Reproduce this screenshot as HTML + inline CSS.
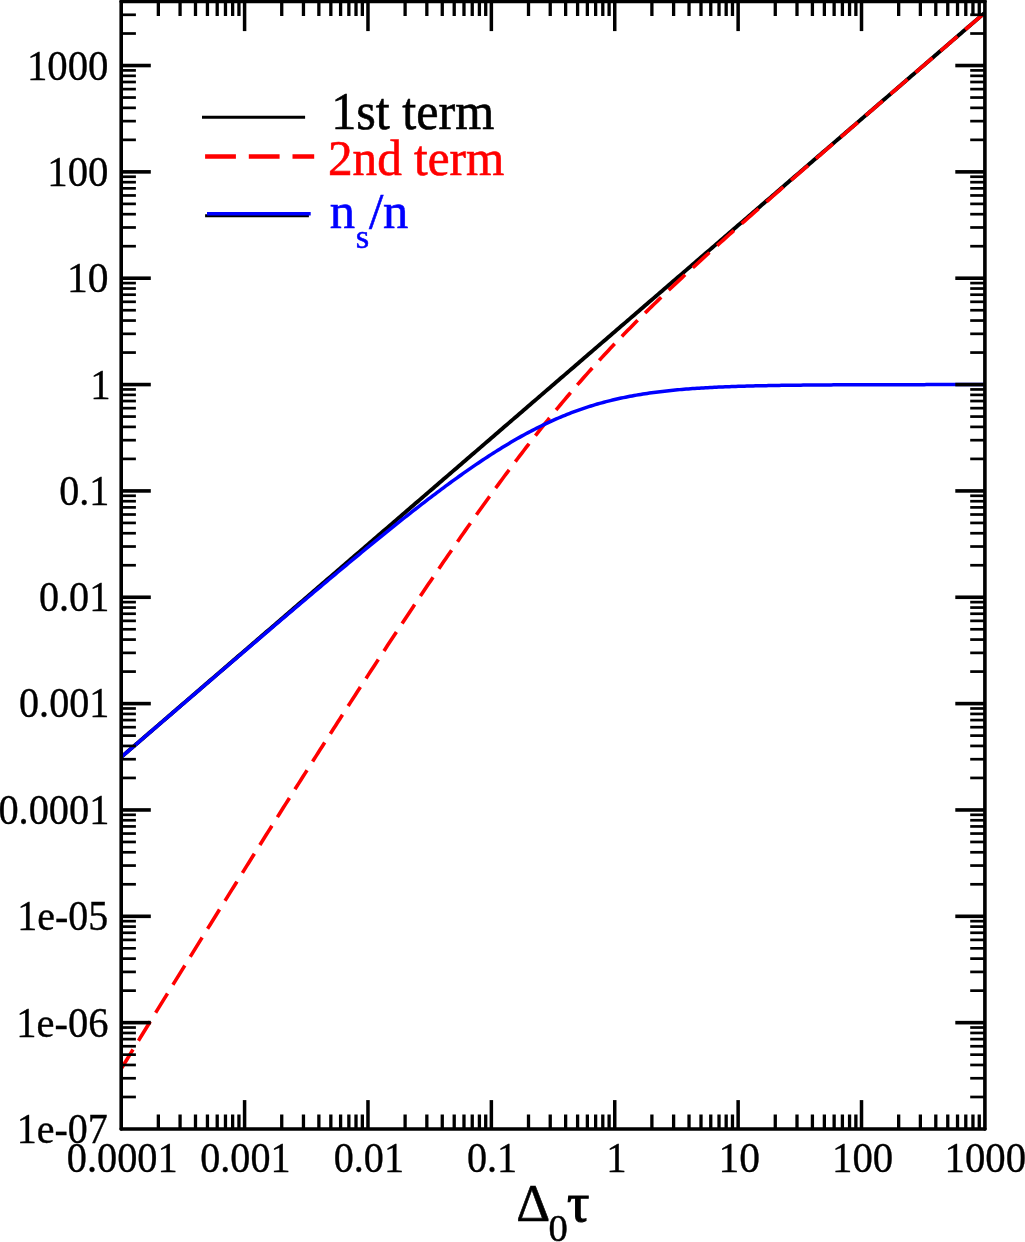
<!DOCTYPE html><html><head><meta charset="utf-8"><style>html,body{margin:0;padding:0;background:#fff;overflow:hidden;width:1025px;height:1242px;}svg{display:block;}text{font-family:"Liberation Serif","DejaVu Serif",serif;}</style></head><body>
<svg width="1025" height="1242" viewBox="0 0 1025 1242">
<rect x="0" y="0" width="1025" height="1242" fill="#fff"/>
<defs><clipPath id="c"><rect x="121.20" y="1.50" width="863.70" height="1127.50"/></clipPath></defs>
<g clip-path="url(#c)" fill="none" stroke-linejoin="round">
<path d="M121.20,757.09 L123.36,755.22 L125.53,753.36 L127.69,751.49 L129.86,749.62 L132.02,747.76 L134.19,745.89 L136.35,744.03 L138.52,742.16 L140.68,740.30 L142.85,738.43 L145.01,736.56 L147.18,734.70 L149.34,732.83 L151.51,730.97 L153.67,729.10 L155.83,727.24 L158.00,725.37 L160.16,723.50 L162.33,721.64 L164.49,719.77 L166.66,717.91 L168.82,716.04 L170.99,714.18 L173.15,712.31 L175.32,710.44 L177.48,708.58 L179.65,706.71 L181.81,704.85 L183.98,702.98 L186.14,701.12 L188.30,699.25 L190.47,697.38 L192.63,695.52 L194.80,693.65 L196.96,691.79 L199.13,689.92 L201.29,688.06 L203.46,686.19 L205.62,684.32 L207.79,682.46 L209.95,680.59 L212.12,678.73 L214.28,676.86 L216.45,675.00 L218.61,673.13 L220.77,671.26 L222.94,669.40 L225.10,667.53 L227.27,665.67 L229.43,663.80 L231.60,661.93 L233.76,660.07 L235.93,658.20 L238.09,656.34 L240.26,654.47 L242.42,652.61 L244.59,650.74 L246.75,648.87 L248.92,647.01 L251.08,645.14 L253.24,643.28 L255.41,641.41 L257.57,639.55 L259.74,637.68 L261.90,635.81 L264.07,633.95 L266.23,632.08 L268.40,630.22 L270.56,628.35 L272.73,626.49 L274.89,624.62 L277.06,622.75 L279.22,620.89 L281.38,619.02 L283.55,617.16 L285.71,615.29 L287.88,613.43 L290.04,611.56 L292.21,609.69 L294.37,607.83 L296.54,605.96 L298.70,604.10 L300.87,602.23 L303.03,600.37 L305.20,598.50 L307.36,596.63 L309.53,594.77 L311.69,592.90 L313.85,591.04 L316.02,589.17 L318.18,587.31 L320.35,585.44 L322.51,583.57 L324.68,581.71 L326.84,579.84 L329.01,577.98 L331.17,576.11 L333.34,574.25 L335.50,572.38 L337.67,570.51 L339.83,568.65 L342.00,566.78 L344.16,564.92 L346.32,563.05 L348.49,561.18 L350.65,559.32 L352.82,557.45 L354.98,555.59 L357.15,553.72 L359.31,551.86 L361.48,549.99 L363.64,548.12 L365.81,546.26 L367.97,544.39 L370.14,542.53 L372.30,540.66 L374.47,538.80 L376.63,536.93 L378.79,535.06 L380.96,533.20 L383.12,531.33 L385.29,529.47 L387.45,527.60 L389.62,525.74 L391.78,523.87 L393.95,522.00 L396.11,520.14 L398.28,518.27 L400.44,516.41 L402.61,514.54 L404.77,512.68 L406.94,510.81 L409.10,508.94 L411.26,507.08 L413.43,505.21 L415.59,503.35 L417.76,501.48 L419.92,499.62 L422.09,497.75 L424.25,495.88 L426.42,494.02 L428.58,492.15 L430.75,490.29 L432.91,488.42 L435.08,486.56 L437.24,484.69 L439.41,482.82 L441.57,480.96 L443.73,479.09 L445.90,477.23 L448.06,475.36 L450.23,473.50 L452.39,471.63 L454.56,469.76 L456.72,467.90 L458.89,466.03 L461.05,464.17 L463.22,462.30 L465.38,460.43 L467.55,458.57 L469.71,456.70 L471.88,454.84 L474.04,452.97 L476.20,451.11 L478.37,449.24 L480.53,447.37 L482.70,445.51 L484.86,443.64 L487.03,441.78 L489.19,439.91 L491.36,438.05 L493.52,436.18 L495.69,434.31 L497.85,432.45 L500.02,430.58 L502.18,428.72 L504.35,426.85 L506.51,424.99 L508.67,423.12 L510.84,421.25 L513.00,419.39 L515.17,417.52 L517.33,415.66 L519.50,413.79 L521.66,411.93 L523.83,410.06 L525.99,408.19 L528.16,406.33 L530.32,404.46 L532.49,402.60 L534.65,400.73 L536.82,398.87 L538.98,397.00 L541.14,395.13 L543.31,393.27 L545.47,391.40 L547.64,389.54 L549.80,387.67 L551.97,385.81 L554.13,383.94 L556.30,382.07 L558.46,380.21 L560.63,378.34 L562.79,376.48 L564.96,374.61 L567.12,372.74 L569.28,370.88 L571.45,369.01 L573.61,367.15 L575.78,365.28 L577.94,363.42 L580.11,361.55 L582.27,359.68 L584.44,357.82 L586.60,355.95 L588.77,354.09 L590.93,352.22 L593.10,350.36 L595.26,348.49 L597.43,346.62 L599.59,344.76 L601.75,342.89 L603.92,341.03 L606.08,339.16 L608.25,337.30 L610.41,335.43 L612.58,333.56 L614.74,331.70 L616.91,329.83 L619.07,327.97 L621.24,326.10 L623.40,324.24 L625.57,322.37 L627.73,320.50 L629.90,318.64 L632.06,316.77 L634.22,314.91 L636.39,313.04 L638.55,311.18 L640.72,309.31 L642.88,307.44 L645.05,305.58 L647.21,303.71 L649.38,301.85 L651.54,299.98 L653.71,298.12 L655.87,296.25 L658.04,294.38 L660.20,292.52 L662.37,290.65 L664.53,288.79 L666.69,286.92 L668.86,285.06 L671.02,283.19 L673.19,281.32 L675.35,279.46 L677.52,277.59 L679.68,275.73 L681.85,273.86 L684.01,271.99 L686.18,270.13 L688.34,268.26 L690.51,266.40 L692.67,264.53 L694.84,262.67 L697.00,260.80 L699.16,258.93 L701.33,257.07 L703.49,255.20 L705.66,253.34 L707.82,251.47 L709.99,249.61 L712.15,247.74 L714.32,245.87 L716.48,244.01 L718.65,242.14 L720.81,240.28 L722.98,238.41 L725.14,236.55 L727.31,234.68 L729.47,232.81 L731.63,230.95 L733.80,229.08 L735.96,227.22 L738.13,225.35 L740.29,223.49 L742.46,221.62 L744.62,219.75 L746.79,217.89 L748.95,216.02 L751.12,214.16 L753.28,212.29 L755.45,210.43 L757.61,208.56 L759.78,206.69 L761.94,204.83 L764.10,202.96 L766.27,201.10 L768.43,199.23 L770.60,197.37 L772.76,195.50 L774.93,193.63 L777.09,191.77 L779.26,189.90 L781.42,188.04 L783.59,186.17 L785.75,184.31 L787.92,182.44 L790.08,180.57 L792.25,178.71 L794.41,176.84 L796.57,174.98 L798.74,173.11 L800.90,171.24 L803.07,169.38 L805.23,167.51 L807.40,165.65 L809.56,163.78 L811.73,161.92 L813.89,160.05 L816.06,158.18 L818.22,156.32 L820.39,154.45 L822.55,152.59 L824.72,150.72 L826.88,148.86 L829.04,146.99 L831.21,145.12 L833.37,143.26 L835.54,141.39 L837.70,139.53 L839.87,137.66 L842.03,135.80 L844.20,133.93 L846.36,132.06 L848.53,130.20 L850.69,128.33 L852.86,126.47 L855.02,124.60 L857.18,122.74 L859.35,120.87 L861.51,119.00 L863.68,117.14 L865.84,115.27 L868.01,113.41 L870.17,111.54 L872.34,109.68 L874.50,107.81 L876.67,105.94 L878.83,104.08 L881.00,102.21 L883.16,100.35 L885.33,98.48 L887.49,96.62 L889.65,94.75 L891.82,92.88 L893.98,91.02 L896.15,89.15 L898.31,87.29 L900.48,85.42 L902.64,83.56 L904.81,81.69 L906.97,79.82 L909.14,77.96 L911.30,76.09 L913.47,74.23 L915.63,72.36 L917.80,70.49 L919.96,68.63 L922.12,66.76 L924.29,64.90 L926.45,63.03 L928.62,61.17 L930.78,59.30 L932.95,57.43 L935.11,55.57 L937.28,53.70 L939.44,51.84 L941.61,49.97 L943.77,48.11 L945.94,46.24 L948.10,44.37 L950.27,42.51 L952.43,40.64 L954.59,38.78 L956.76,36.91 L958.92,35.05 L961.09,33.18 L963.25,31.31 L965.42,29.45 L967.58,27.58 L969.75,25.72 L971.91,23.85 L974.08,21.99 L976.24,20.12 L978.41,18.25 L980.57,16.39 L982.74,14.52 L984.90,12.66" stroke="#000" stroke-width="3.9"/>
<path d="M121.20,1068.77 L123.36,1065.24 L125.53,1061.72 L127.69,1058.19 L129.86,1054.66 L132.02,1051.14 L134.19,1047.61 L136.35,1044.09 L138.52,1040.57 L140.68,1037.05 L142.85,1033.53 L145.01,1030.01 L147.18,1026.49 L149.34,1022.97 L151.51,1019.46 L153.67,1015.94 L155.83,1012.43 L158.00,1008.92 L160.16,1005.40 L162.33,1001.89 L164.49,998.38 L166.66,994.87 L168.82,991.37 L170.99,987.86 L173.15,984.35 L175.32,980.85 L177.48,977.35 L179.65,973.84 L181.81,970.34 L183.98,966.84 L186.14,963.34 L188.30,959.85 L190.47,956.35 L192.63,952.85 L194.80,949.36 L196.96,945.87 L199.13,942.38 L201.29,938.89 L203.46,935.40 L205.62,931.91 L207.79,928.42 L209.95,924.94 L212.12,921.45 L214.28,917.97 L216.45,914.49 L218.61,911.01 L220.77,907.53 L222.94,904.05 L225.10,900.58 L227.27,897.10 L229.43,893.63 L231.60,890.16 L233.76,886.69 L235.93,883.22 L238.09,879.76 L240.26,876.29 L242.42,872.83 L244.59,869.36 L246.75,865.90 L248.92,862.44 L251.08,858.99 L253.24,855.53 L255.41,852.08 L257.57,848.62 L259.74,845.17 L261.90,841.73 L264.07,838.28 L266.23,834.83 L268.40,831.39 L270.56,827.95 L272.73,824.51 L274.89,821.07 L277.06,817.63 L279.22,814.20 L281.38,810.76 L283.55,807.33 L285.71,803.91 L287.88,800.48 L290.04,797.05 L292.21,793.63 L294.37,790.21 L296.54,786.79 L298.70,783.38 L300.87,779.96 L303.03,776.55 L305.20,773.14 L307.36,769.73 L309.53,766.33 L311.69,762.93 L313.85,759.52 L316.02,756.13 L318.18,752.73 L320.35,749.34 L322.51,745.95 L324.68,742.56 L326.84,739.17 L329.01,735.79 L331.17,732.41 L333.34,729.03 L335.50,725.66 L337.67,722.28 L339.83,718.92 L342.00,715.55 L344.16,712.18 L346.32,708.82 L348.49,705.47 L350.65,702.11 L352.82,698.76 L354.98,695.41 L357.15,692.07 L359.31,688.72 L361.48,685.38 L363.64,682.05 L365.81,678.72 L367.97,675.39 L370.14,672.06 L372.30,668.74 L374.47,665.42 L376.63,662.11 L378.79,658.80 L380.96,655.49 L383.12,652.19 L385.29,648.89 L387.45,645.59 L389.62,642.30 L391.78,639.02 L393.95,635.73 L396.11,632.46 L398.28,629.18 L400.44,625.91 L402.61,622.65 L404.77,619.39 L406.94,616.13 L409.10,612.88 L411.26,609.64 L413.43,606.39 L415.59,603.16 L417.76,599.93 L419.92,596.70 L422.09,593.48 L424.25,590.27 L426.42,587.06 L428.58,583.86 L430.75,580.66 L432.91,577.47 L435.08,574.28 L437.24,571.10 L439.41,567.93 L441.57,564.76 L443.73,561.60 L445.90,558.45 L448.06,555.30 L450.23,552.16 L452.39,549.03 L454.56,545.90 L456.72,542.78 L458.89,539.67 L461.05,536.56 L463.22,533.47 L465.38,530.38 L467.55,527.30 L469.71,524.23 L471.88,521.16 L474.04,518.11 L476.20,515.06 L478.37,512.02 L480.53,508.99 L482.70,505.97 L484.86,502.96 L487.03,499.95 L489.19,496.96 L491.36,493.98 L493.52,491.00 L495.69,488.04 L497.85,485.09 L500.02,482.14 L502.18,479.21 L504.35,476.29 L506.51,473.38 L508.67,470.48 L510.84,467.59 L513.00,464.71 L515.17,461.84 L517.33,458.99 L519.50,456.14 L521.66,453.31 L523.83,450.49 L525.99,447.68 L528.16,444.89 L530.32,442.10 L532.49,439.33 L534.65,436.57 L536.82,433.83 L538.98,431.09 L541.14,428.38 L543.31,425.67 L545.47,422.97 L547.64,420.29 L549.80,417.63 L551.97,414.97 L554.13,412.33 L556.30,409.70 L558.46,407.09 L560.63,404.49 L562.79,401.90 L564.96,399.33 L567.12,396.77 L569.28,394.22 L571.45,391.69 L573.61,389.17 L575.78,386.67 L577.94,384.17 L580.11,381.70 L582.27,379.23 L584.44,376.78 L586.60,374.34 L588.77,371.91 L590.93,369.50 L593.10,367.10 L595.26,364.71 L597.43,362.34 L599.59,359.98 L601.75,357.63 L603.92,355.29 L606.08,352.96 L608.25,350.65 L610.41,348.35 L612.58,346.06 L614.74,343.78 L616.91,341.52 L619.07,339.26 L621.24,337.01 L623.40,334.78 L625.57,332.56 L627.73,330.34 L629.90,328.14 L632.06,325.95 L634.22,323.77 L636.39,321.59 L638.55,319.43 L640.72,317.27 L642.88,315.13 L645.05,312.99 L647.21,310.86 L649.38,308.74 L651.54,306.63 L653.71,304.52 L655.87,302.43 L658.04,300.34 L660.20,298.26 L662.37,296.18 L664.53,294.12 L666.69,292.06 L668.86,290.00 L671.02,287.95 L673.19,285.91 L675.35,283.88 L677.52,281.85 L679.68,279.82 L681.85,277.81 L684.01,275.79 L686.18,273.79 L688.34,271.78 L690.51,269.78 L692.67,267.79 L694.84,265.80 L697.00,263.82 L699.16,261.84 L701.33,259.86 L703.49,257.89 L705.66,255.92 L707.82,253.96 L709.99,252.00 L712.15,250.04 L714.32,248.09 L716.48,246.14 L718.65,244.19 L720.81,242.25 L722.98,240.30 L725.14,238.37 L727.31,236.43 L729.47,234.50 L731.63,232.57 L733.80,230.64 L735.96,228.71 L738.13,226.79 L740.29,224.87 L742.46,222.95 L744.62,221.03 L746.79,219.12 L748.95,217.20 L751.12,215.29 L753.28,213.38 L755.45,211.47 L757.61,209.57 L759.78,207.66 L761.94,205.76 L764.10,203.86 L766.27,201.95 L768.43,200.06 L770.60,198.16 L772.76,196.26 L774.93,194.37 L777.09,192.47 L779.26,190.58 L781.42,188.69 L783.59,186.79 L785.75,184.90 L787.92,183.01 L790.08,181.13 L792.25,179.24 L794.41,177.35 L796.57,175.47 L798.74,173.58 L800.90,171.70 L803.07,169.81 L805.23,167.93 L807.40,166.05 L809.56,164.17 L811.73,162.29 L813.89,160.41 L816.06,158.53 L818.22,156.65 L820.39,154.77 L822.55,152.89 L824.72,151.01 L826.88,149.14 L829.04,147.26 L831.21,145.38 L833.37,143.51 L835.54,141.63 L837.70,139.76 L839.87,137.88 L842.03,136.01 L844.20,134.13 L846.36,132.26 L848.53,130.39 L850.69,128.51 L852.86,126.64 L855.02,124.77 L857.18,122.89 L859.35,121.02 L861.51,119.15 L863.68,117.28 L865.84,115.41 L868.01,113.54 L870.17,111.67 L872.34,109.80 L874.50,107.92 L876.67,106.05 L878.83,104.18 L881.00,102.31 L883.16,100.44 L885.33,98.58 L887.49,96.71 L889.65,94.84 L891.82,92.97 L893.98,91.10 L896.15,89.23 L898.31,87.36 L900.48,85.49 L902.64,83.62 L904.81,81.75 L906.97,79.89 L909.14,78.02 L911.30,76.15 L913.47,74.28 L915.63,72.41 L917.80,70.55 L919.96,68.68 L922.12,66.81 L924.29,64.94 L926.45,63.08 L928.62,61.21 L930.78,59.34 L932.95,57.47 L935.11,55.61 L937.28,53.74 L939.44,51.87 L941.61,50.00 L943.77,48.14 L945.94,46.27 L948.10,44.40 L950.27,42.54 L952.43,40.67 L954.59,38.80 L956.76,36.94 L958.92,35.07 L961.09,33.20 L963.25,31.34 L965.42,29.47 L967.58,27.60 L969.75,25.74 L971.91,23.87 L974.08,22.00 L976.24,20.14 L978.41,18.27 L980.57,16.40 L982.74,14.54 L984.90,12.67" stroke="#f00" stroke-width="3.6" stroke-dasharray="22.6,10.31" stroke-dashoffset="0"/>
<path d="M121.20,757.14 L123.36,755.28 L125.53,753.41 L127.69,751.55 L129.86,749.69 L132.02,747.82 L134.19,745.96 L136.35,744.10 L138.52,742.23 L140.68,740.37 L142.85,738.51 L145.01,736.65 L147.18,734.78 L149.34,732.92 L151.51,731.06 L153.67,729.19 L155.83,727.33 L158.00,725.47 L160.16,723.61 L162.33,721.75 L164.49,719.88 L166.66,718.02 L168.82,716.16 L170.99,714.30 L173.15,712.44 L175.32,710.58 L177.48,708.72 L179.65,706.86 L181.81,704.99 L183.98,703.13 L186.14,701.27 L188.30,699.41 L190.47,697.55 L192.63,695.69 L194.80,693.83 L196.96,691.98 L199.13,690.12 L201.29,688.26 L203.46,686.40 L205.62,684.54 L207.79,682.68 L209.95,680.83 L212.12,678.97 L214.28,677.11 L216.45,675.25 L218.61,673.40 L220.77,671.54 L222.94,669.69 L225.10,667.83 L227.27,665.98 L229.43,664.12 L231.60,662.27 L233.76,660.41 L235.93,658.56 L238.09,656.71 L240.26,654.85 L242.42,653.00 L244.59,651.15 L246.75,649.30 L248.92,647.45 L251.08,645.60 L253.24,643.75 L255.41,641.90 L257.57,640.05 L259.74,638.20 L261.90,636.35 L264.07,634.51 L266.23,632.66 L268.40,630.81 L270.56,628.97 L272.73,627.12 L274.89,625.28 L277.06,623.44 L279.22,621.60 L281.38,619.76 L283.55,617.92 L285.71,616.08 L287.88,614.24 L290.04,612.40 L292.21,610.56 L294.37,608.73 L296.54,606.89 L298.70,605.06 L300.87,603.23 L303.03,601.39 L305.20,599.56 L307.36,597.74 L309.53,595.91 L311.69,594.08 L313.85,592.26 L316.02,590.43 L318.18,588.61 L320.35,586.79 L322.51,584.97 L324.68,583.15 L326.84,581.33 L329.01,579.52 L331.17,577.70 L333.34,575.89 L335.50,574.08 L337.67,572.27 L339.83,570.47 L342.00,568.66 L344.16,566.86 L346.32,565.06 L348.49,563.26 L350.65,561.47 L352.82,559.67 L354.98,557.88 L357.15,556.09 L359.31,554.31 L361.48,552.52 L363.64,550.74 L365.81,548.96 L367.97,547.18 L370.14,545.41 L372.30,543.64 L374.47,541.87 L376.63,540.11 L378.79,538.35 L380.96,536.59 L383.12,534.84 L385.29,533.09 L387.45,531.34 L389.62,529.59 L391.78,527.85 L393.95,526.12 L396.11,524.39 L398.28,522.66 L400.44,520.94 L402.61,519.22 L404.77,517.50 L406.94,515.79 L409.10,514.09 L411.26,512.39 L413.43,510.69 L415.59,509.00 L417.76,507.31 L419.92,505.64 L422.09,503.96 L424.25,502.29 L426.42,500.63 L428.58,498.97 L430.75,497.32 L432.91,495.68 L435.08,494.04 L437.24,492.41 L439.41,490.79 L441.57,489.17 L443.73,487.56 L445.90,485.96 L448.06,484.37 L450.23,482.78 L452.39,481.20 L454.56,479.63 L456.72,478.07 L458.89,476.51 L461.05,474.97 L463.22,473.43 L465.38,471.91 L467.55,470.39 L469.71,468.88 L471.88,467.38 L474.04,465.90 L476.20,464.42 L478.37,462.95 L480.53,461.49 L482.70,460.05 L484.86,458.61 L487.03,457.19 L489.19,455.78 L491.36,454.38 L493.52,452.99 L495.69,451.62 L497.85,450.26 L500.02,448.91 L502.18,447.57 L504.35,446.24 L506.51,444.93 L508.67,443.64 L510.84,442.35 L513.00,441.08 L515.17,439.83 L517.33,438.59 L519.50,437.36 L521.66,436.15 L523.83,434.96 L525.99,433.78 L528.16,432.61 L530.32,431.46 L532.49,430.33 L534.65,429.21 L536.82,428.11 L538.98,427.02 L541.14,425.95 L543.31,424.90 L545.47,423.86 L547.64,422.84 L549.80,421.84 L551.97,420.85 L554.13,419.88 L556.30,418.93 L558.46,417.99 L560.63,417.08 L562.79,416.18 L564.96,415.29 L567.12,414.42 L569.28,413.57 L571.45,412.74 L573.61,411.92 L575.78,411.13 L577.94,410.34 L580.11,409.58 L582.27,408.83 L584.44,408.10 L586.60,407.38 L588.77,406.69 L590.93,406.00 L593.10,405.34 L595.26,404.69 L597.43,404.05 L599.59,403.44 L601.75,402.83 L603.92,402.25 L606.08,401.68 L608.25,401.12 L610.41,400.58 L612.58,400.05 L614.74,399.54 L616.91,399.04 L619.07,398.55 L621.24,398.08 L623.40,397.63 L625.57,397.18 L627.73,396.75 L629.90,396.33 L632.06,395.93 L634.22,395.53 L636.39,395.15 L638.55,394.78 L640.72,394.42 L642.88,394.07 L645.05,393.74 L647.21,393.41 L649.38,393.10 L651.54,392.79 L653.71,392.49 L655.87,392.21 L658.04,391.93 L660.20,391.67 L662.37,391.41 L664.53,391.16 L666.69,390.92 L668.86,390.68 L671.02,390.46 L673.19,390.24 L675.35,390.03 L677.52,389.83 L679.68,389.63 L681.85,389.44 L684.01,389.26 L686.18,389.09 L688.34,388.92 L690.51,388.75 L692.67,388.60 L694.84,388.44 L697.00,388.30 L699.16,388.16 L701.33,388.02 L703.49,387.89 L705.66,387.76 L707.82,387.64 L709.99,387.52 L712.15,387.41 L714.32,387.30 L716.48,387.20 L718.65,387.10 L720.81,387.00 L722.98,386.91 L725.14,386.82 L727.31,386.73 L729.47,386.65 L731.63,386.57 L733.80,386.49 L735.96,386.41 L738.13,386.34 L740.29,386.27 L742.46,386.21 L744.62,386.14 L746.79,386.08 L748.95,386.02 L751.12,385.97 L753.28,385.91 L755.45,385.86 L757.61,385.81 L759.78,385.76 L761.94,385.72 L764.10,385.67 L766.27,385.63 L768.43,385.59 L770.60,385.55 L772.76,385.51 L774.93,385.47 L777.09,385.44 L779.26,385.40 L781.42,385.37 L783.59,385.34 L785.75,385.31 L787.92,385.28 L790.08,385.25 L792.25,385.22 L794.41,385.20 L796.57,385.17 L798.74,385.15 L800.90,385.13 L803.07,385.11 L805.23,385.08 L807.40,385.06 L809.56,385.04 L811.73,385.03 L813.89,385.01 L816.06,384.99 L818.22,384.97 L820.39,384.96 L822.55,384.94 L824.72,384.93 L826.88,384.91 L829.04,384.90 L831.21,384.89 L833.37,384.87 L835.54,384.86 L837.70,384.85 L839.87,384.84 L842.03,384.83 L844.20,384.82 L846.36,384.81 L848.53,384.80 L850.69,384.79 L852.86,384.78 L855.02,384.77 L857.18,384.77 L859.35,384.76 L861.51,384.75 L863.68,384.74 L865.84,384.74 L868.01,384.73 L870.17,384.72 L872.34,384.72 L874.50,384.71 L876.67,384.71 L878.83,384.70 L881.00,384.70 L883.16,384.69 L885.33,384.69 L887.49,384.68 L889.65,384.68 L891.82,384.67 L893.98,384.67 L896.15,384.66 L898.31,384.66 L900.48,384.66 L902.64,384.65 L904.81,384.65 L906.97,384.65 L909.14,384.64 L911.30,384.64 L913.47,384.64 L915.63,384.64 L917.80,384.63 L919.96,384.63 L922.12,384.63 L924.29,384.63 L926.45,384.62 L928.62,384.62 L930.78,384.62 L932.95,384.62 L935.11,384.62 L937.28,384.61 L939.44,384.61 L941.61,384.61 L943.77,384.61 L945.94,384.61 L948.10,384.61 L950.27,384.60 L952.43,384.60 L954.59,384.60 L956.76,384.60 L958.92,384.60 L961.09,384.60 L963.25,384.60 L965.42,384.60 L967.58,384.59 L969.75,384.59 L971.91,384.59 L974.08,384.59 L976.24,384.59 L978.41,384.59 L980.57,384.59 L982.74,384.59 L984.90,384.59" stroke="#00f" stroke-width="3.5"/>
</g>
<g stroke="#000" stroke-linecap="butt"><line x1="158.34" y1="1129.00" x2="158.34" y2="1114.50" stroke-width="3.3"/><line x1="158.34" y1="1.50" x2="158.34" y2="16.00" stroke-width="3.3"/><line x1="180.07" y1="1129.00" x2="180.07" y2="1114.50" stroke-width="3.3"/><line x1="180.07" y1="1.50" x2="180.07" y2="16.00" stroke-width="3.3"/><line x1="195.49" y1="1129.00" x2="195.49" y2="1114.50" stroke-width="3.3"/><line x1="195.49" y1="1.50" x2="195.49" y2="16.00" stroke-width="3.3"/><line x1="207.44" y1="1129.00" x2="207.44" y2="1114.50" stroke-width="3.3"/><line x1="207.44" y1="1.50" x2="207.44" y2="16.00" stroke-width="3.3"/><line x1="217.21" y1="1129.00" x2="217.21" y2="1114.50" stroke-width="3.3"/><line x1="217.21" y1="1.50" x2="217.21" y2="16.00" stroke-width="3.3"/><line x1="225.47" y1="1129.00" x2="225.47" y2="1114.50" stroke-width="3.3"/><line x1="225.47" y1="1.50" x2="225.47" y2="16.00" stroke-width="3.3"/><line x1="232.63" y1="1129.00" x2="232.63" y2="1114.50" stroke-width="3.3"/><line x1="232.63" y1="1.50" x2="232.63" y2="16.00" stroke-width="3.3"/><line x1="238.94" y1="1129.00" x2="238.94" y2="1114.50" stroke-width="3.3"/><line x1="238.94" y1="1.50" x2="238.94" y2="16.00" stroke-width="3.3"/><line x1="244.59" y1="1129.00" x2="244.59" y2="1100.10" stroke-width="3.5"/><line x1="244.59" y1="1.50" x2="244.59" y2="31.10" stroke-width="3.5"/><line x1="281.73" y1="1129.00" x2="281.73" y2="1114.50" stroke-width="3.3"/><line x1="281.73" y1="1.50" x2="281.73" y2="16.00" stroke-width="3.3"/><line x1="303.46" y1="1129.00" x2="303.46" y2="1114.50" stroke-width="3.3"/><line x1="303.46" y1="1.50" x2="303.46" y2="16.00" stroke-width="3.3"/><line x1="318.87" y1="1129.00" x2="318.87" y2="1114.50" stroke-width="3.3"/><line x1="318.87" y1="1.50" x2="318.87" y2="16.00" stroke-width="3.3"/><line x1="330.83" y1="1129.00" x2="330.83" y2="1114.50" stroke-width="3.3"/><line x1="330.83" y1="1.50" x2="330.83" y2="16.00" stroke-width="3.3"/><line x1="340.60" y1="1129.00" x2="340.60" y2="1114.50" stroke-width="3.3"/><line x1="340.60" y1="1.50" x2="340.60" y2="16.00" stroke-width="3.3"/><line x1="348.86" y1="1129.00" x2="348.86" y2="1114.50" stroke-width="3.3"/><line x1="348.86" y1="1.50" x2="348.86" y2="16.00" stroke-width="3.3"/><line x1="356.01" y1="1129.00" x2="356.01" y2="1114.50" stroke-width="3.3"/><line x1="356.01" y1="1.50" x2="356.01" y2="16.00" stroke-width="3.3"/><line x1="362.33" y1="1129.00" x2="362.33" y2="1114.50" stroke-width="3.3"/><line x1="362.33" y1="1.50" x2="362.33" y2="16.00" stroke-width="3.3"/><line x1="367.97" y1="1129.00" x2="367.97" y2="1100.10" stroke-width="3.5"/><line x1="367.97" y1="1.50" x2="367.97" y2="31.10" stroke-width="3.5"/><line x1="405.11" y1="1129.00" x2="405.11" y2="1114.50" stroke-width="3.3"/><line x1="405.11" y1="1.50" x2="405.11" y2="16.00" stroke-width="3.3"/><line x1="426.84" y1="1129.00" x2="426.84" y2="1114.50" stroke-width="3.3"/><line x1="426.84" y1="1.50" x2="426.84" y2="16.00" stroke-width="3.3"/><line x1="442.26" y1="1129.00" x2="442.26" y2="1114.50" stroke-width="3.3"/><line x1="442.26" y1="1.50" x2="442.26" y2="16.00" stroke-width="3.3"/><line x1="454.21" y1="1129.00" x2="454.21" y2="1114.50" stroke-width="3.3"/><line x1="454.21" y1="1.50" x2="454.21" y2="16.00" stroke-width="3.3"/><line x1="463.98" y1="1129.00" x2="463.98" y2="1114.50" stroke-width="3.3"/><line x1="463.98" y1="1.50" x2="463.98" y2="16.00" stroke-width="3.3"/><line x1="472.24" y1="1129.00" x2="472.24" y2="1114.50" stroke-width="3.3"/><line x1="472.24" y1="1.50" x2="472.24" y2="16.00" stroke-width="3.3"/><line x1="479.40" y1="1129.00" x2="479.40" y2="1114.50" stroke-width="3.3"/><line x1="479.40" y1="1.50" x2="479.40" y2="16.00" stroke-width="3.3"/><line x1="485.71" y1="1129.00" x2="485.71" y2="1114.50" stroke-width="3.3"/><line x1="485.71" y1="1.50" x2="485.71" y2="16.00" stroke-width="3.3"/><line x1="491.36" y1="1129.00" x2="491.36" y2="1100.10" stroke-width="3.5"/><line x1="491.36" y1="1.50" x2="491.36" y2="31.10" stroke-width="3.5"/><line x1="528.50" y1="1129.00" x2="528.50" y2="1114.50" stroke-width="3.3"/><line x1="528.50" y1="1.50" x2="528.50" y2="16.00" stroke-width="3.3"/><line x1="550.23" y1="1129.00" x2="550.23" y2="1114.50" stroke-width="3.3"/><line x1="550.23" y1="1.50" x2="550.23" y2="16.00" stroke-width="3.3"/><line x1="565.64" y1="1129.00" x2="565.64" y2="1114.50" stroke-width="3.3"/><line x1="565.64" y1="1.50" x2="565.64" y2="16.00" stroke-width="3.3"/><line x1="577.60" y1="1129.00" x2="577.60" y2="1114.50" stroke-width="3.3"/><line x1="577.60" y1="1.50" x2="577.60" y2="16.00" stroke-width="3.3"/><line x1="587.37" y1="1129.00" x2="587.37" y2="1114.50" stroke-width="3.3"/><line x1="587.37" y1="1.50" x2="587.37" y2="16.00" stroke-width="3.3"/><line x1="595.63" y1="1129.00" x2="595.63" y2="1114.50" stroke-width="3.3"/><line x1="595.63" y1="1.50" x2="595.63" y2="16.00" stroke-width="3.3"/><line x1="602.79" y1="1129.00" x2="602.79" y2="1114.50" stroke-width="3.3"/><line x1="602.79" y1="1.50" x2="602.79" y2="16.00" stroke-width="3.3"/><line x1="609.10" y1="1129.00" x2="609.10" y2="1114.50" stroke-width="3.3"/><line x1="609.10" y1="1.50" x2="609.10" y2="16.00" stroke-width="3.3"/><line x1="614.74" y1="1129.00" x2="614.74" y2="1100.10" stroke-width="3.5"/><line x1="614.74" y1="1.50" x2="614.74" y2="31.10" stroke-width="3.5"/><line x1="651.89" y1="1129.00" x2="651.89" y2="1114.50" stroke-width="3.3"/><line x1="651.89" y1="1.50" x2="651.89" y2="16.00" stroke-width="3.3"/><line x1="673.61" y1="1129.00" x2="673.61" y2="1114.50" stroke-width="3.3"/><line x1="673.61" y1="1.50" x2="673.61" y2="16.00" stroke-width="3.3"/><line x1="689.03" y1="1129.00" x2="689.03" y2="1114.50" stroke-width="3.3"/><line x1="689.03" y1="1.50" x2="689.03" y2="16.00" stroke-width="3.3"/><line x1="700.99" y1="1129.00" x2="700.99" y2="1114.50" stroke-width="3.3"/><line x1="700.99" y1="1.50" x2="700.99" y2="16.00" stroke-width="3.3"/><line x1="710.76" y1="1129.00" x2="710.76" y2="1114.50" stroke-width="3.3"/><line x1="710.76" y1="1.50" x2="710.76" y2="16.00" stroke-width="3.3"/><line x1="719.02" y1="1129.00" x2="719.02" y2="1114.50" stroke-width="3.3"/><line x1="719.02" y1="1.50" x2="719.02" y2="16.00" stroke-width="3.3"/><line x1="726.17" y1="1129.00" x2="726.17" y2="1114.50" stroke-width="3.3"/><line x1="726.17" y1="1.50" x2="726.17" y2="16.00" stroke-width="3.3"/><line x1="732.48" y1="1129.00" x2="732.48" y2="1114.50" stroke-width="3.3"/><line x1="732.48" y1="1.50" x2="732.48" y2="16.00" stroke-width="3.3"/><line x1="738.13" y1="1129.00" x2="738.13" y2="1100.10" stroke-width="3.5"/><line x1="738.13" y1="1.50" x2="738.13" y2="31.10" stroke-width="3.5"/><line x1="775.27" y1="1129.00" x2="775.27" y2="1114.50" stroke-width="3.3"/><line x1="775.27" y1="1.50" x2="775.27" y2="16.00" stroke-width="3.3"/><line x1="797.00" y1="1129.00" x2="797.00" y2="1114.50" stroke-width="3.3"/><line x1="797.00" y1="1.50" x2="797.00" y2="16.00" stroke-width="3.3"/><line x1="812.41" y1="1129.00" x2="812.41" y2="1114.50" stroke-width="3.3"/><line x1="812.41" y1="1.50" x2="812.41" y2="16.00" stroke-width="3.3"/><line x1="824.37" y1="1129.00" x2="824.37" y2="1114.50" stroke-width="3.3"/><line x1="824.37" y1="1.50" x2="824.37" y2="16.00" stroke-width="3.3"/><line x1="834.14" y1="1129.00" x2="834.14" y2="1114.50" stroke-width="3.3"/><line x1="834.14" y1="1.50" x2="834.14" y2="16.00" stroke-width="3.3"/><line x1="842.40" y1="1129.00" x2="842.40" y2="1114.50" stroke-width="3.3"/><line x1="842.40" y1="1.50" x2="842.40" y2="16.00" stroke-width="3.3"/><line x1="849.56" y1="1129.00" x2="849.56" y2="1114.50" stroke-width="3.3"/><line x1="849.56" y1="1.50" x2="849.56" y2="16.00" stroke-width="3.3"/><line x1="855.87" y1="1129.00" x2="855.87" y2="1114.50" stroke-width="3.3"/><line x1="855.87" y1="1.50" x2="855.87" y2="16.00" stroke-width="3.3"/><line x1="861.51" y1="1129.00" x2="861.51" y2="1100.10" stroke-width="3.5"/><line x1="861.51" y1="1.50" x2="861.51" y2="31.10" stroke-width="3.5"/><line x1="898.66" y1="1129.00" x2="898.66" y2="1114.50" stroke-width="3.3"/><line x1="898.66" y1="1.50" x2="898.66" y2="16.00" stroke-width="3.3"/><line x1="920.38" y1="1129.00" x2="920.38" y2="1114.50" stroke-width="3.3"/><line x1="920.38" y1="1.50" x2="920.38" y2="16.00" stroke-width="3.3"/><line x1="935.80" y1="1129.00" x2="935.80" y2="1114.50" stroke-width="3.3"/><line x1="935.80" y1="1.50" x2="935.80" y2="16.00" stroke-width="3.3"/><line x1="947.76" y1="1129.00" x2="947.76" y2="1114.50" stroke-width="3.3"/><line x1="947.76" y1="1.50" x2="947.76" y2="16.00" stroke-width="3.3"/><line x1="957.53" y1="1129.00" x2="957.53" y2="1114.50" stroke-width="3.3"/><line x1="957.53" y1="1.50" x2="957.53" y2="16.00" stroke-width="3.3"/><line x1="965.79" y1="1129.00" x2="965.79" y2="1114.50" stroke-width="3.3"/><line x1="965.79" y1="1.50" x2="965.79" y2="16.00" stroke-width="3.3"/><line x1="972.94" y1="1129.00" x2="972.94" y2="1114.50" stroke-width="3.3"/><line x1="972.94" y1="1.50" x2="972.94" y2="16.00" stroke-width="3.3"/><line x1="979.25" y1="1129.00" x2="979.25" y2="1114.50" stroke-width="3.3"/><line x1="979.25" y1="1.50" x2="979.25" y2="16.00" stroke-width="3.3"/><line x1="121.20" y1="1096.99" x2="135.90" y2="1096.99" stroke-width="2.7"/><line x1="984.90" y1="1096.99" x2="970.20" y2="1096.99" stroke-width="2.7"/><line x1="121.20" y1="1078.26" x2="135.90" y2="1078.26" stroke-width="2.7"/><line x1="984.90" y1="1078.26" x2="970.20" y2="1078.26" stroke-width="2.7"/><line x1="121.20" y1="1064.97" x2="135.90" y2="1064.97" stroke-width="2.7"/><line x1="984.90" y1="1064.97" x2="970.20" y2="1064.97" stroke-width="2.7"/><line x1="121.20" y1="1054.67" x2="135.90" y2="1054.67" stroke-width="2.7"/><line x1="984.90" y1="1054.67" x2="970.20" y2="1054.67" stroke-width="2.7"/><line x1="121.20" y1="1046.25" x2="135.90" y2="1046.25" stroke-width="2.7"/><line x1="984.90" y1="1046.25" x2="970.20" y2="1046.25" stroke-width="2.7"/><line x1="121.20" y1="1039.13" x2="135.90" y2="1039.13" stroke-width="2.7"/><line x1="984.90" y1="1039.13" x2="970.20" y2="1039.13" stroke-width="2.7"/><line x1="121.20" y1="1032.96" x2="135.90" y2="1032.96" stroke-width="2.7"/><line x1="984.90" y1="1032.96" x2="970.20" y2="1032.96" stroke-width="2.7"/><line x1="121.20" y1="1027.52" x2="135.90" y2="1027.52" stroke-width="2.7"/><line x1="984.90" y1="1027.52" x2="970.20" y2="1027.52" stroke-width="2.7"/><line x1="121.20" y1="1022.65" x2="150.80" y2="1022.65" stroke-width="3.6"/><line x1="984.90" y1="1022.65" x2="955.30" y2="1022.65" stroke-width="3.6"/><line x1="121.20" y1="990.64" x2="135.90" y2="990.64" stroke-width="2.7"/><line x1="984.90" y1="990.64" x2="970.20" y2="990.64" stroke-width="2.7"/><line x1="121.20" y1="971.91" x2="135.90" y2="971.91" stroke-width="2.7"/><line x1="984.90" y1="971.91" x2="970.20" y2="971.91" stroke-width="2.7"/><line x1="121.20" y1="958.63" x2="135.90" y2="958.63" stroke-width="2.7"/><line x1="984.90" y1="958.63" x2="970.20" y2="958.63" stroke-width="2.7"/><line x1="121.20" y1="948.32" x2="135.90" y2="948.32" stroke-width="2.7"/><line x1="984.90" y1="948.32" x2="970.20" y2="948.32" stroke-width="2.7"/><line x1="121.20" y1="939.90" x2="135.90" y2="939.90" stroke-width="2.7"/><line x1="984.90" y1="939.90" x2="970.20" y2="939.90" stroke-width="2.7"/><line x1="121.20" y1="932.78" x2="135.90" y2="932.78" stroke-width="2.7"/><line x1="984.90" y1="932.78" x2="970.20" y2="932.78" stroke-width="2.7"/><line x1="121.20" y1="926.61" x2="135.90" y2="926.61" stroke-width="2.7"/><line x1="984.90" y1="926.61" x2="970.20" y2="926.61" stroke-width="2.7"/><line x1="121.20" y1="921.17" x2="135.90" y2="921.17" stroke-width="2.7"/><line x1="984.90" y1="921.17" x2="970.20" y2="921.17" stroke-width="2.7"/><line x1="121.20" y1="916.31" x2="150.80" y2="916.31" stroke-width="3.6"/><line x1="984.90" y1="916.31" x2="955.30" y2="916.31" stroke-width="3.6"/><line x1="121.20" y1="884.29" x2="135.90" y2="884.29" stroke-width="2.7"/><line x1="984.90" y1="884.29" x2="970.20" y2="884.29" stroke-width="2.7"/><line x1="121.20" y1="865.56" x2="135.90" y2="865.56" stroke-width="2.7"/><line x1="984.90" y1="865.56" x2="970.20" y2="865.56" stroke-width="2.7"/><line x1="121.20" y1="852.28" x2="135.90" y2="852.28" stroke-width="2.7"/><line x1="984.90" y1="852.28" x2="970.20" y2="852.28" stroke-width="2.7"/><line x1="121.20" y1="841.97" x2="135.90" y2="841.97" stroke-width="2.7"/><line x1="984.90" y1="841.97" x2="970.20" y2="841.97" stroke-width="2.7"/><line x1="121.20" y1="833.55" x2="135.90" y2="833.55" stroke-width="2.7"/><line x1="984.90" y1="833.55" x2="970.20" y2="833.55" stroke-width="2.7"/><line x1="121.20" y1="826.43" x2="135.90" y2="826.43" stroke-width="2.7"/><line x1="984.90" y1="826.43" x2="970.20" y2="826.43" stroke-width="2.7"/><line x1="121.20" y1="820.26" x2="135.90" y2="820.26" stroke-width="2.7"/><line x1="984.90" y1="820.26" x2="970.20" y2="820.26" stroke-width="2.7"/><line x1="121.20" y1="814.82" x2="135.90" y2="814.82" stroke-width="2.7"/><line x1="984.90" y1="814.82" x2="970.20" y2="814.82" stroke-width="2.7"/><line x1="121.20" y1="809.96" x2="150.80" y2="809.96" stroke-width="3.6"/><line x1="984.90" y1="809.96" x2="955.30" y2="809.96" stroke-width="3.6"/><line x1="121.20" y1="777.94" x2="135.90" y2="777.94" stroke-width="2.7"/><line x1="984.90" y1="777.94" x2="970.20" y2="777.94" stroke-width="2.7"/><line x1="121.20" y1="759.22" x2="135.90" y2="759.22" stroke-width="2.7"/><line x1="984.90" y1="759.22" x2="970.20" y2="759.22" stroke-width="2.7"/><line x1="121.20" y1="745.93" x2="135.90" y2="745.93" stroke-width="2.7"/><line x1="984.90" y1="745.93" x2="970.20" y2="745.93" stroke-width="2.7"/><line x1="121.20" y1="735.62" x2="135.90" y2="735.62" stroke-width="2.7"/><line x1="984.90" y1="735.62" x2="970.20" y2="735.62" stroke-width="2.7"/><line x1="121.20" y1="727.20" x2="135.90" y2="727.20" stroke-width="2.7"/><line x1="984.90" y1="727.20" x2="970.20" y2="727.20" stroke-width="2.7"/><line x1="121.20" y1="720.08" x2="135.90" y2="720.08" stroke-width="2.7"/><line x1="984.90" y1="720.08" x2="970.20" y2="720.08" stroke-width="2.7"/><line x1="121.20" y1="713.92" x2="135.90" y2="713.92" stroke-width="2.7"/><line x1="984.90" y1="713.92" x2="970.20" y2="713.92" stroke-width="2.7"/><line x1="121.20" y1="708.48" x2="135.90" y2="708.48" stroke-width="2.7"/><line x1="984.90" y1="708.48" x2="970.20" y2="708.48" stroke-width="2.7"/><line x1="121.20" y1="703.61" x2="150.80" y2="703.61" stroke-width="3.6"/><line x1="984.90" y1="703.61" x2="955.30" y2="703.61" stroke-width="3.6"/><line x1="121.20" y1="671.60" x2="135.90" y2="671.60" stroke-width="2.7"/><line x1="984.90" y1="671.60" x2="970.20" y2="671.60" stroke-width="2.7"/><line x1="121.20" y1="652.87" x2="135.90" y2="652.87" stroke-width="2.7"/><line x1="984.90" y1="652.87" x2="970.20" y2="652.87" stroke-width="2.7"/><line x1="121.20" y1="639.58" x2="135.90" y2="639.58" stroke-width="2.7"/><line x1="984.90" y1="639.58" x2="970.20" y2="639.58" stroke-width="2.7"/><line x1="121.20" y1="629.28" x2="135.90" y2="629.28" stroke-width="2.7"/><line x1="984.90" y1="629.28" x2="970.20" y2="629.28" stroke-width="2.7"/><line x1="121.20" y1="620.86" x2="135.90" y2="620.86" stroke-width="2.7"/><line x1="984.90" y1="620.86" x2="970.20" y2="620.86" stroke-width="2.7"/><line x1="121.20" y1="613.74" x2="135.90" y2="613.74" stroke-width="2.7"/><line x1="984.90" y1="613.74" x2="970.20" y2="613.74" stroke-width="2.7"/><line x1="121.20" y1="607.57" x2="135.90" y2="607.57" stroke-width="2.7"/><line x1="984.90" y1="607.57" x2="970.20" y2="607.57" stroke-width="2.7"/><line x1="121.20" y1="602.13" x2="135.90" y2="602.13" stroke-width="2.7"/><line x1="984.90" y1="602.13" x2="970.20" y2="602.13" stroke-width="2.7"/><line x1="121.20" y1="597.26" x2="150.80" y2="597.26" stroke-width="3.6"/><line x1="984.90" y1="597.26" x2="955.30" y2="597.26" stroke-width="3.6"/><line x1="121.20" y1="565.25" x2="135.90" y2="565.25" stroke-width="2.7"/><line x1="984.90" y1="565.25" x2="970.20" y2="565.25" stroke-width="2.7"/><line x1="121.20" y1="546.52" x2="135.90" y2="546.52" stroke-width="2.7"/><line x1="984.90" y1="546.52" x2="970.20" y2="546.52" stroke-width="2.7"/><line x1="121.20" y1="533.24" x2="135.90" y2="533.24" stroke-width="2.7"/><line x1="984.90" y1="533.24" x2="970.20" y2="533.24" stroke-width="2.7"/><line x1="121.20" y1="522.93" x2="135.90" y2="522.93" stroke-width="2.7"/><line x1="984.90" y1="522.93" x2="970.20" y2="522.93" stroke-width="2.7"/><line x1="121.20" y1="514.51" x2="135.90" y2="514.51" stroke-width="2.7"/><line x1="984.90" y1="514.51" x2="970.20" y2="514.51" stroke-width="2.7"/><line x1="121.20" y1="507.39" x2="135.90" y2="507.39" stroke-width="2.7"/><line x1="984.90" y1="507.39" x2="970.20" y2="507.39" stroke-width="2.7"/><line x1="121.20" y1="501.22" x2="135.90" y2="501.22" stroke-width="2.7"/><line x1="984.90" y1="501.22" x2="970.20" y2="501.22" stroke-width="2.7"/><line x1="121.20" y1="495.78" x2="135.90" y2="495.78" stroke-width="2.7"/><line x1="984.90" y1="495.78" x2="970.20" y2="495.78" stroke-width="2.7"/><line x1="121.20" y1="490.92" x2="150.80" y2="490.92" stroke-width="3.6"/><line x1="984.90" y1="490.92" x2="955.30" y2="490.92" stroke-width="3.6"/><line x1="121.20" y1="458.90" x2="135.90" y2="458.90" stroke-width="2.7"/><line x1="984.90" y1="458.90" x2="970.20" y2="458.90" stroke-width="2.7"/><line x1="121.20" y1="440.18" x2="135.90" y2="440.18" stroke-width="2.7"/><line x1="984.90" y1="440.18" x2="970.20" y2="440.18" stroke-width="2.7"/><line x1="121.20" y1="426.89" x2="135.90" y2="426.89" stroke-width="2.7"/><line x1="984.90" y1="426.89" x2="970.20" y2="426.89" stroke-width="2.7"/><line x1="121.20" y1="416.58" x2="135.90" y2="416.58" stroke-width="2.7"/><line x1="984.90" y1="416.58" x2="970.20" y2="416.58" stroke-width="2.7"/><line x1="121.20" y1="408.16" x2="135.90" y2="408.16" stroke-width="2.7"/><line x1="984.90" y1="408.16" x2="970.20" y2="408.16" stroke-width="2.7"/><line x1="121.20" y1="401.04" x2="135.90" y2="401.04" stroke-width="2.7"/><line x1="984.90" y1="401.04" x2="970.20" y2="401.04" stroke-width="2.7"/><line x1="121.20" y1="394.88" x2="135.90" y2="394.88" stroke-width="2.7"/><line x1="984.90" y1="394.88" x2="970.20" y2="394.88" stroke-width="2.7"/><line x1="121.20" y1="389.44" x2="135.90" y2="389.44" stroke-width="2.7"/><line x1="984.90" y1="389.44" x2="970.20" y2="389.44" stroke-width="2.7"/><line x1="121.20" y1="384.57" x2="150.80" y2="384.57" stroke-width="3.6"/><line x1="984.90" y1="384.57" x2="955.30" y2="384.57" stroke-width="3.6"/><line x1="121.20" y1="352.56" x2="135.90" y2="352.56" stroke-width="2.7"/><line x1="984.90" y1="352.56" x2="970.20" y2="352.56" stroke-width="2.7"/><line x1="121.20" y1="333.83" x2="135.90" y2="333.83" stroke-width="2.7"/><line x1="984.90" y1="333.83" x2="970.20" y2="333.83" stroke-width="2.7"/><line x1="121.20" y1="320.54" x2="135.90" y2="320.54" stroke-width="2.7"/><line x1="984.90" y1="320.54" x2="970.20" y2="320.54" stroke-width="2.7"/><line x1="121.20" y1="310.24" x2="135.90" y2="310.24" stroke-width="2.7"/><line x1="984.90" y1="310.24" x2="970.20" y2="310.24" stroke-width="2.7"/><line x1="121.20" y1="301.81" x2="135.90" y2="301.81" stroke-width="2.7"/><line x1="984.90" y1="301.81" x2="970.20" y2="301.81" stroke-width="2.7"/><line x1="121.20" y1="294.70" x2="135.90" y2="294.70" stroke-width="2.7"/><line x1="984.90" y1="294.70" x2="970.20" y2="294.70" stroke-width="2.7"/><line x1="121.20" y1="288.53" x2="135.90" y2="288.53" stroke-width="2.7"/><line x1="984.90" y1="288.53" x2="970.20" y2="288.53" stroke-width="2.7"/><line x1="121.20" y1="283.09" x2="135.90" y2="283.09" stroke-width="2.7"/><line x1="984.90" y1="283.09" x2="970.20" y2="283.09" stroke-width="2.7"/><line x1="121.20" y1="278.22" x2="150.80" y2="278.22" stroke-width="3.6"/><line x1="984.90" y1="278.22" x2="955.30" y2="278.22" stroke-width="3.6"/><line x1="121.20" y1="246.21" x2="135.90" y2="246.21" stroke-width="2.7"/><line x1="984.90" y1="246.21" x2="970.20" y2="246.21" stroke-width="2.7"/><line x1="121.20" y1="227.48" x2="135.90" y2="227.48" stroke-width="2.7"/><line x1="984.90" y1="227.48" x2="970.20" y2="227.48" stroke-width="2.7"/><line x1="121.20" y1="214.19" x2="135.90" y2="214.19" stroke-width="2.7"/><line x1="984.90" y1="214.19" x2="970.20" y2="214.19" stroke-width="2.7"/><line x1="121.20" y1="203.89" x2="135.90" y2="203.89" stroke-width="2.7"/><line x1="984.90" y1="203.89" x2="970.20" y2="203.89" stroke-width="2.7"/><line x1="121.20" y1="195.47" x2="135.90" y2="195.47" stroke-width="2.7"/><line x1="984.90" y1="195.47" x2="970.20" y2="195.47" stroke-width="2.7"/><line x1="121.20" y1="188.35" x2="135.90" y2="188.35" stroke-width="2.7"/><line x1="984.90" y1="188.35" x2="970.20" y2="188.35" stroke-width="2.7"/><line x1="121.20" y1="182.18" x2="135.90" y2="182.18" stroke-width="2.7"/><line x1="984.90" y1="182.18" x2="970.20" y2="182.18" stroke-width="2.7"/><line x1="121.20" y1="176.74" x2="135.90" y2="176.74" stroke-width="2.7"/><line x1="984.90" y1="176.74" x2="970.20" y2="176.74" stroke-width="2.7"/><line x1="121.20" y1="171.87" x2="150.80" y2="171.87" stroke-width="3.6"/><line x1="984.90" y1="171.87" x2="955.30" y2="171.87" stroke-width="3.6"/><line x1="121.20" y1="139.86" x2="135.90" y2="139.86" stroke-width="2.7"/><line x1="984.90" y1="139.86" x2="970.20" y2="139.86" stroke-width="2.7"/><line x1="121.20" y1="121.13" x2="135.90" y2="121.13" stroke-width="2.7"/><line x1="984.90" y1="121.13" x2="970.20" y2="121.13" stroke-width="2.7"/><line x1="121.20" y1="107.85" x2="135.90" y2="107.85" stroke-width="2.7"/><line x1="984.90" y1="107.85" x2="970.20" y2="107.85" stroke-width="2.7"/><line x1="121.20" y1="97.54" x2="135.90" y2="97.54" stroke-width="2.7"/><line x1="984.90" y1="97.54" x2="970.20" y2="97.54" stroke-width="2.7"/><line x1="121.20" y1="89.12" x2="135.90" y2="89.12" stroke-width="2.7"/><line x1="984.90" y1="89.12" x2="970.20" y2="89.12" stroke-width="2.7"/><line x1="121.20" y1="82.00" x2="135.90" y2="82.00" stroke-width="2.7"/><line x1="984.90" y1="82.00" x2="970.20" y2="82.00" stroke-width="2.7"/><line x1="121.20" y1="75.83" x2="135.90" y2="75.83" stroke-width="2.7"/><line x1="984.90" y1="75.83" x2="970.20" y2="75.83" stroke-width="2.7"/><line x1="121.20" y1="70.39" x2="135.90" y2="70.39" stroke-width="2.7"/><line x1="984.90" y1="70.39" x2="970.20" y2="70.39" stroke-width="2.7"/><line x1="121.20" y1="65.53" x2="150.80" y2="65.53" stroke-width="3.6"/><line x1="984.90" y1="65.53" x2="955.30" y2="65.53" stroke-width="3.6"/><line x1="121.20" y1="33.51" x2="135.90" y2="33.51" stroke-width="2.7"/><line x1="984.90" y1="33.51" x2="970.20" y2="33.51" stroke-width="2.7"/><line x1="121.20" y1="14.79" x2="135.90" y2="14.79" stroke-width="2.7"/><line x1="984.90" y1="14.79" x2="970.20" y2="14.79" stroke-width="2.7"/><line x1="121.20" y1="1.50" x2="135.90" y2="1.50" stroke-width="2.7"/><line x1="984.90" y1="1.50" x2="970.20" y2="1.50" stroke-width="2.7"/></g>
<g stroke="#000" stroke-width="3.6" stroke-linecap="round"><line x1="121.20" y1="1.50" x2="984.90" y2="1.50"/><line x1="984.90" y1="1.50" x2="984.90" y2="1129.00"/><line x1="984.90" y1="1129.00" x2="121.20" y2="1129.00"/><line x1="121.20" y1="1129.00" x2="121.20" y2="1.50"/></g>
<text transform="translate(16.77 1143.01) scale(1 1.0457)" font-size="40.02" fill="#000" stroke="#000" stroke-width="0.33">1e-07</text>
<text transform="translate(16.23 1036.66) scale(1 1.0337)" font-size="40.49" fill="#000" stroke="#000" stroke-width="0.34">1e-06</text>
<text transform="translate(17.34 930.31) scale(1 1.0476)" font-size="39.95" fill="#000" stroke="#000" stroke-width="0.33">1e-05</text>
<text transform="translate(-1.54 823.76) scale(1 1.0303)" font-size="40.32" fill="#000" stroke="#000" stroke-width="0.34">0.0001</text>
<text transform="translate(19.07 717.41) scale(1 1.0356)" font-size="40.12" fill="#000" stroke="#000" stroke-width="0.34">0.001</text>
<text transform="translate(38.97 611.07) scale(1 1.0331)" font-size="40.21" fill="#000" stroke="#000" stroke-width="0.34">0.01</text>
<text transform="translate(59.17 504.72) scale(1 1.0352)" font-size="40.13" fill="#000" stroke="#000" stroke-width="0.34">0.1</text>
<text transform="translate(90.16 398.99) scale(1 1.0597)" font-size="40.70" fill="#000" stroke="#000" stroke-width="0.33">1</text>
<text transform="translate(66.99 292.23) scale(1 1.0072)" font-size="41.55" fill="#000" stroke="#000" stroke-width="0.35">10</text>
<text transform="translate(47.25 185.88) scale(1 1.0248)" font-size="40.84" fill="#000" stroke="#000" stroke-width="0.34">100</text>
<text transform="translate(26.97 79.53) scale(1 1.0265)" font-size="40.77" fill="#000" stroke="#000" stroke-width="0.34">1000</text>
<text transform="translate(66.76 1171.50) scale(1 1.0303)" font-size="40.32" fill="#000" stroke="#000" stroke-width="0.34">0.0001</text>
<text transform="translate(200.27 1171.50) scale(1 1.0356)" font-size="40.12" fill="#000" stroke="#000" stroke-width="0.34">0.001</text>
<text transform="translate(333.67 1171.50) scale(1 1.0331)" font-size="40.21" fill="#000" stroke="#000" stroke-width="0.34">0.01</text>
<text transform="translate(466.97 1171.50) scale(1 1.0330)" font-size="40.22" fill="#000" stroke="#000" stroke-width="0.34">0.1</text>
<text transform="translate(606.16 1172.12) scale(1 1.0597)" font-size="40.70" fill="#000" stroke="#000" stroke-width="0.33">1</text>
<text transform="translate(718.44 1171.71) scale(1 1.0072)" font-size="41.55" fill="#000" stroke="#000" stroke-width="0.35">10</text>
<text transform="translate(832.00 1171.71) scale(1 1.0248)" font-size="40.84" fill="#000" stroke="#000" stroke-width="0.34">100</text>
<text transform="translate(944.51 1171.71) scale(1 1.0264)" font-size="40.78" fill="#000" stroke="#000" stroke-width="0.34">1000</text>
<line x1="202" y1="117.3" x2="305.1" y2="117.3" stroke="#000" stroke-width="3.0"/>
<line x1="205.1" y1="156.6" x2="314.2" y2="156.6" stroke="#f00" stroke-width="4.5" stroke-dasharray="30.8,12.9"/>
<line x1="205.1" y1="215.7" x2="308.9" y2="215.7" stroke="#000" stroke-width="3.0"/>
<line x1="207" y1="213.8" x2="310.7" y2="213.8" stroke="#00f" stroke-width="3.6"/>
<text transform="translate(331.18 128.50) scale(1 1.0300)" font-size="50.24" fill="#000" stroke="#000" stroke-width="0.58">1st term</text>
<text transform="translate(327.88 174.70) scale(1 1.0100)" font-size="49.26" fill="#f00" stroke="#f00" stroke-width="0.59">2nd term</text>
<text fill="#00f"><tspan x="329.73" y="228.20" font-size="50.65" stroke="#00f" stroke-width="0.60">n</tspan><tspan x="355.77" y="248.25" font-size="34.60" stroke="#00f" stroke-width="0.50">s</tspan><tspan x="369.10" y="228.00" font-size="51.64" stroke="#00f" stroke-width="0.60">/</tspan><tspan x="382.93" y="228.20" font-size="50.65" stroke="#00f" stroke-width="0.60">n</tspan></text>
<text fill="#000"><tspan x="516.29" y="1220.60" font-size="52.74" stroke="#000" stroke-width="0.60">Δ</tspan><tspan x="548.51" y="1240.75" font-size="38.57" stroke="#000" stroke-width="0.50">0</tspan><tspan x="567.11" y="1221.00" font-size="55.77" stroke="#000" stroke-width="1.20">τ</tspan></text>
</svg></body></html>
